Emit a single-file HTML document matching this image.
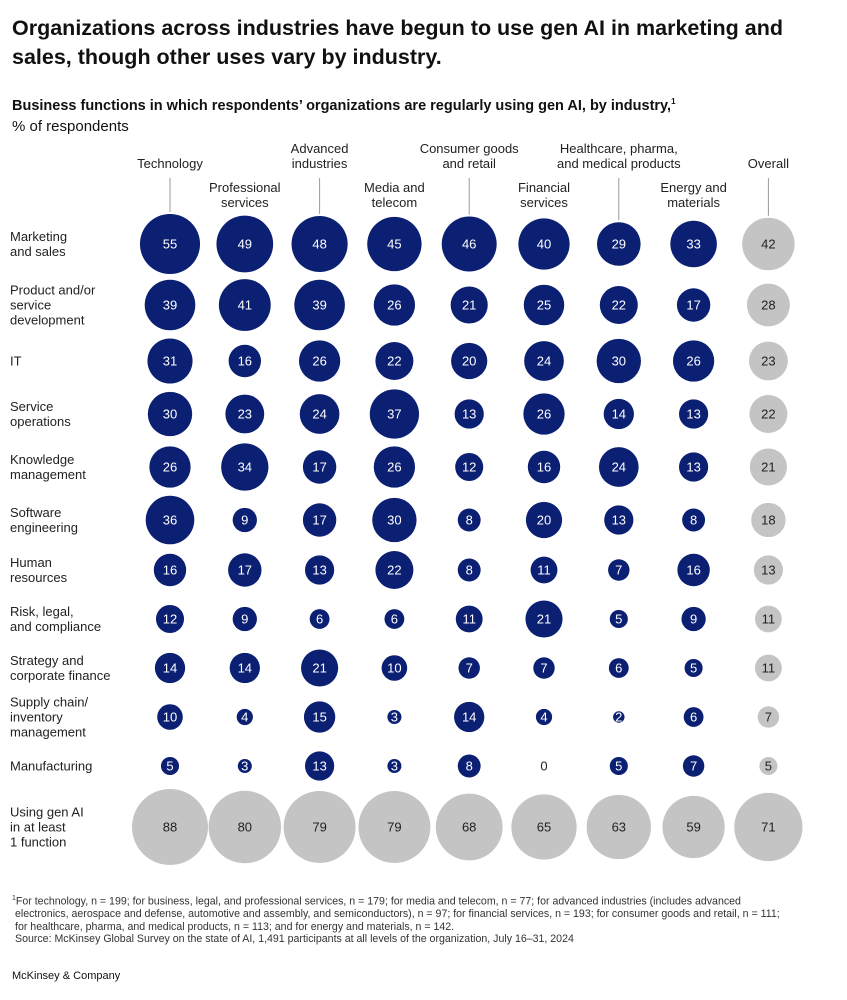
<!DOCTYPE html>
<html><head><meta charset="utf-8"><style>
body{margin:0;background:#fff;font-family:"Liberation Sans",sans-serif;color:#111;}
#wrap{position:relative;width:847px;height:1000px;overflow:hidden;}
.t{position:absolute;}
</style></head><body>
<div id="wrap">
<div class="t" style="left:12px;top:14px;width:820px;font-size:21.5px;font-weight:bold;line-height:29px;">Organizations across industries have begun to use gen AI in marketing and sales, though other uses vary by industry.</div>
<div class="t" style="left:12px;top:97px;font-size:14.5px;font-weight:bold;">Business functions in which respondents’ organizations are regularly using gen AI, by industry,<sup style="font-size:8px">1</sup></div>
<div class="t" style="left:12px;top:118px;font-size:15px;">% of respondents</div>
<svg id="chart" width="847" height="1000" style="position:absolute;left:0;top:0"></svg>
<div class="t" style="left:12px;top:893px;width:765px;font-size:10.6px;line-height:12.5px;color:#333;padding-left:3px;text-indent:-3px;"><sup style="font-size:7px">1</sup>For technology, n = 199; for business, legal, and professional services, n = 179; for media and telecom, n = 77; for advanced industries (includes advanced electronics, aerospace and defense, automotive and assembly, and semiconductors), n = 97; for financial services, n = 193; for consumer goods and retail, n = 111; for healthcare, pharma, and medical products, n = 113; and for energy and materials, n = 142.<br>Source: McKinsey Global Survey on the state of AI, 1,491 participants at all levels of the organization, July 16–31, 2024</div>
<div class="t" style="left:12px;top:970px;font-size:11px;">McKinsey &amp; Company</div>
</div>
<script>
const industries=["Technology","Professional services","Advanced industries","Media and telecom","Consumer goods and retail","Financial services","Healthcare, pharma, and medical products","Energy and materials","Overall"];
const headerLines=[["Technology"],["Professional","services"],["Advanced","industries"],["Media and","telecom"],["Consumer goods","and retail"],["Financial","services"],["Healthcare, pharma,","and medical products"],["Energy and","materials"],["Overall"]];
const functions=[["Marketing","and sales"],["Product and/or","service","development"],["IT"],["Service","operations"],["Knowledge","management"],["Software","engineering"],["Human","resources"],["Risk, legal,","and compliance"],["Strategy and","corporate finance"],["Supply chain/","inventory","management"],["Manufacturing"],["Using gen AI","in at least","1 function"]];
const values=[
[55,49,48,45,46,40,29,33,42],
[39,41,39,26,21,25,22,17,28],
[31,16,26,22,20,24,30,26,23],
[30,23,24,37,13,26,14,13,22],
[26,34,17,26,12,16,24,13,21],
[36,9,17,30,8,20,13,8,18],
[16,17,13,22,8,11,7,16,13],
[12,9,6,6,11,21,5,9,11],
[14,14,21,10,7,7,6,5,11],
[10,4,15,3,14,4,2,6,7],
[5,3,13,3,8,0,5,7,5],
[88,80,79,79,68,65,63,59,71]];
const rowY=[244,305,361,414,467,520,570,619,668,717,766,827];
const NS="http://www.w3.org/2000/svg";
const svg=document.getElementById("chart");
function xCol(i){return 170+i*74.8;}
function yRow(j){return rowY[j];}
function rad(v){return 4.05*Math.sqrt(v);}
function txt(x,y,s,size,fill,anchor){const t=document.createElementNS(NS,"text");t.setAttribute("x",x);t.setAttribute("y",y);t.setAttribute("font-size",size);t.setAttribute("fill",fill);t.setAttribute("text-anchor",anchor);t.setAttribute("font-family","Liberation Sans, sans-serif");t.textContent=s;svg.appendChild(t);return t;}
headerLines.forEach((lines,i)=>{
 const high=(i%2==0);
 const baseY=(i==0||i==8)?168:(high?153:192);
 lines.forEach((l,k)=>{const t=txt(xCol(i),baseY+k*15,l,13,"#222","middle");
 
 });
 if(high){const ln=document.createElementNS(NS,"line");const x=xCol(i);
 ln.setAttribute("x1",x);ln.setAttribute("x2",x);ln.setAttribute("y1",178);ln.setAttribute("y2",yRow(0)-rad(values[0][i])-2);ln.setAttribute("stroke","#999");ln.setAttribute("stroke-width","1");
 
 
 svg.appendChild(ln);}
});
functions.forEach((lines,j)=>{
 const y0=yRow(j)-(lines.length-1)*7.5+4.5;
 lines.forEach((l,k)=>{const t=txt(10,y0+k*15,l,13,"#222","start");
 
 });
});
values.forEach((row,j)=>{row.forEach((v,i)=>{
 const grey=(i==8||j==11);
 if(v>0){const c=document.createElementNS(NS,"circle");
 c.setAttribute("cx",xCol(i));c.setAttribute("cy",yRow(j));c.setAttribute("r",rad(v));
 c.setAttribute("fill",grey?"#c4c4c4":"#0b1f73");
 
 
 svg.appendChild(c);}
 const t=txt(xCol(i),yRow(j)+4.5,String(v),13,(grey||v==0)?"#222":"#fff","middle");
 
 
});});
</script>
</body></html>
